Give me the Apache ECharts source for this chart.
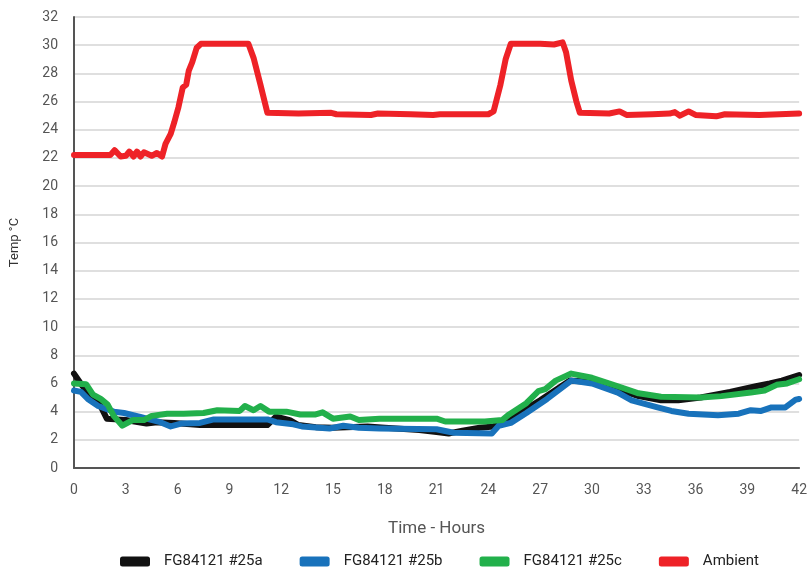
<!DOCTYPE html>
<html>
<head>
<meta charset="utf-8">
<script src="https://cdn.jsdelivr.net/npm/echarts@6/dist/echarts.min.js"></script>
<style>
  html, body { margin: 0; padding: 0; background: #fff; }
  #chart { width: 810px; height: 575px; }
</style>
</head>
<body>
<div id="chart"></div>
<script>
// readings: [hour, temp °C]
var probeA = [[0,6.7],[0.5,5.8],[1.0,5.0],[1.5,4.5],[1.9,3.5],[2.4,3.45],[3.0,3.4],[3.5,3.3],[4.2,3.15],[4.8,3.25],[5.8,3.2],[7.3,3.05],[11.2,3.05],[11.7,3.65],[12.5,3.4],[13.0,3.05],[14.0,2.9],[15.0,2.85],[17.0,2.95],[18.0,2.85],[20.0,2.7],[21.0,2.55],[21.7,2.45],[22.5,2.65],[23.5,2.85],[24.3,2.95],[24.8,3.3],[25.5,3.7],[27.0,4.8],[28.7,6.2],[30.0,6.1],[31.5,5.6],[32.7,5.1],[34.0,4.8],[35.0,4.8],[36.3,5.0],[38.0,5.4],[39.5,5.8],[40.3,6.0],[41.0,6.2],[42,6.6]];
var probeB = [[0,5.5],[0.4,5.4],[0.8,4.9],[1.4,4.4],[2.3,4.0],[2.9,3.9],[3.9,3.6],[5.0,3.25],[5.6,2.95],[6.2,3.15],[7.3,3.2],[8.1,3.45],[11.2,3.45],[11.7,3.25],[12.7,3.1],[13.2,2.95],[14.8,2.8],[15.6,3.0],[16.5,2.85],[17.7,2.8],[21.0,2.75],[22.0,2.5],[24.2,2.45],[24.6,3.0],[25.3,3.2],[26.2,3.9],[27.4,4.9],[28.8,6.2],[30.0,6.0],[31.5,5.35],[32.3,4.8],[33.8,4.3],[34.6,4.05],[35.6,3.85],[37.3,3.75],[38.5,3.85],[39.2,4.1],[39.8,4.05],[40.4,4.3],[41.2,4.3],[41.8,4.85],[42,4.9]];
var probeC = [[0,6.0],[0.7,5.95],[1.1,5.2],[1.55,4.9],[1.95,4.5],[2.3,3.7],[2.8,3.0],[3.4,3.4],[4.05,3.4],[4.5,3.7],[5.4,3.85],[6.35,3.85],[7.5,3.9],[8.3,4.1],[9.6,4.05],[9.9,4.4],[10.4,4.1],[10.8,4.4],[11.3,4.0],[12.3,4.0],[13.1,3.8],[14.0,3.8],[14.4,3.95],[15.0,3.5],[16.0,3.65],[16.5,3.4],[17.7,3.5],[21.0,3.5],[21.5,3.3],[23.8,3.3],[24.8,3.4],[25.2,3.8],[26.2,4.6],[26.9,5.45],[27.3,5.6],[27.9,6.2],[28.8,6.7],[30.0,6.4],[31.5,5.8],[32.7,5.3],[34.0,5.05],[36.3,5.0],[37.5,5.1],[39.2,5.35],[40.0,5.5],[40.7,5.9],[41.3,6.0],[42,6.3]];
var ambient = [[0,22.2],[2.1,22.2],[2.35,22.55],[2.7,22.1],[3.0,22.15],[3.2,22.45],[3.45,22.1],[3.65,22.45],[3.85,22.1],[4.05,22.4],[4.5,22.15],[4.8,22.35],[5.1,22.1],[5.3,23.0],[5.6,23.7],[5.8,24.5],[6.05,25.6],[6.3,27.0],[6.5,27.2],[6.65,28.2],[6.85,28.8],[7.1,29.8],[7.35,30.1],[9.0,30.1],[10.1,30.1],[10.4,29.1],[10.8,27.2],[11.2,25.2],[13.0,25.15],[14.9,25.2],[15.2,25.1],[17.2,25.05],[17.6,25.15],[19.5,25.1],[20.8,25.05],[21.2,25.1],[24.0,25.1],[24.3,25.3],[24.7,27.2],[25.0,29.0],[25.3,30.1],[27.0,30.1],[27.8,30.05],[28.3,30.2],[28.5,29.5],[28.8,27.5],[29.1,26.0],[29.3,25.2],[31.0,25.15],[31.6,25.3],[32.0,25.05],[33.5,25.1],[34.5,25.15],[34.8,25.25],[35.1,25.0],[35.6,25.3],[36.0,25.05],[37.2,24.95],[37.7,25.1],[39.7,25.05],[42,25.15]];

var seriesNames = ["FG84121 #25a", "FG84121 #25b", "FG84121 #25c", "Ambient"];
var seriesColors = ["#111111", "#1872bb", "#22b04b", "#ee2227"];
var seriesData = [probeA, probeB, probeC, ambient];

var chart = echarts.init(document.getElementById("chart"));
var font = "Roboto";

var opt = {
  animation: false,
  color: seriesColors,
  grid: { left: 73, right: 8, top: 17, bottom: 107 },
  legend: {
    bottom: 1,
    left: 115,
    icon: "roundRect",
    itemWidth: 30,
    itemHeight: 10,
    itemGap: 37,
    data: seriesNames,
    textStyle: { color: "#222", fontSize: 15, fontFamily: font, padding: [0, 0, 0, 9] }
  },
  xAxis: {
    type: "value",
    min: 0,
    max: 42,
    interval: 3,
    name: "Time - Hours",
    nameLocation: "middle",
    nameGap: 52,
    nameTextStyle: { color: "#555", fontSize: 17, fontFamily: font },
    axisLine: { lineStyle: { color: "#555", width: 2 } },
    axisTick: { show: false },
    axisLabel: { color: "#555", fontSize: 14, fontFamily: font, margin: 15 },
    splitLine: { show: false }
  },
  yAxis: {
    type: "value",
    min: 0,
    max: 32,
    interval: 2,
    name: "Temp °C",
    nameLocation: "middle",
    nameGap: 53,
    nameTextStyle: { color: "#333", fontSize: 13, fontFamily: font },
    axisLine: { show: true, lineStyle: { color: "#555", width: 2 } },
    axisTick: { show: false },
    axisLabel: { color: "#555", fontSize: 14, fontFamily: font, margin: 16 },
    splitLine: { lineStyle: { color: "#d4d4d4", width: 1.5 } }
  },
  series: seriesData.map(function (d, i) {
    return {
      name: seriesNames[i],
      type: "line",
      data: d,
      showSymbol: false,
      symbol: "none",
      lineStyle: { width: 6, color: seriesColors[i], join: "round", cap: "round" }
    };
  })
};

chart.setOption(opt);
</script>
</body>
</html>
